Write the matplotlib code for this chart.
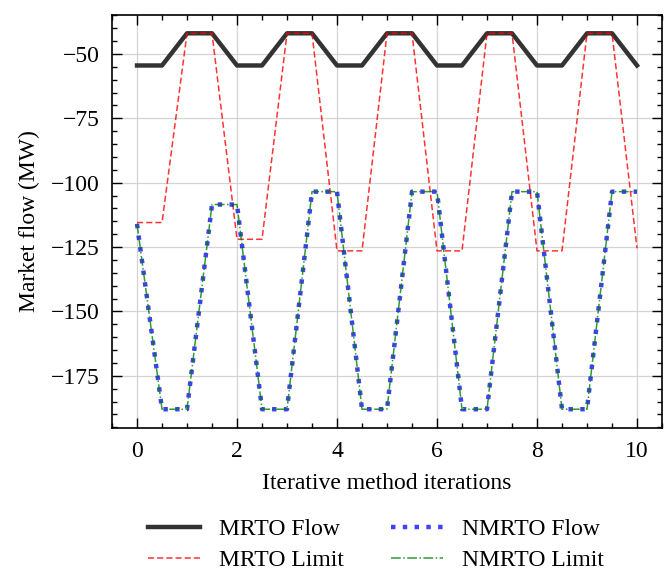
import matplotlib
matplotlib.use("Agg")
import matplotlib.pyplot as plt
from matplotlib.ticker import AutoMinorLocator, MultipleLocator

# iterations on a half-step grid
iterations = [0, 0.5, 1, 1.5, 2, 2.5, 3, 3.5, 4, 4.5, 5,
              5.5, 6, 6.5, 7, 7.5, 8, 8.5, 9, 9.5, 10]

mrto_flow = [-54.5, -54.5, -42, -42, -54.5, -54.5, -42, -42, -54.5, -54.5, -42,
             -42, -54.5, -54.5, -42, -42, -54.5, -54.5, -42, -42, -54.5]
mrto_limit = [-115.5, -115.5, -42, -42, -122, -122, -42, -42, -126.5, -126.5, -42,
              -42, -126.5, -126.5, -42, -42, -126.5, -126.5, -42, -42, -125.5]
nmrto_flow = [-116, -188, -188, -108.5, -108.5, -188, -188, -103.5, -103.5, -188, -188,
              -103.5, -103.5, -188, -188, -103.5, -103.5, -188, -188, -103.5, -103.5]
nmrto_limit = list(nmrto_flow)

plt.rcParams["font.family"] = ["Liberation Serif", "DejaVu Serif"]
plt.rcParams["font.size"] = 17

fig = plt.figure(figsize=(6.64, 5.71), dpi=100)
ax = fig.add_axes([0.1687, 0.2504, 0.8283, 0.7242])

ax.plot(iterations, mrto_flow, color="#333333", lw=3.2, label="MRTO Flow")
ax.plot(iterations, mrto_limit, color="red", alpha=0.8, lw=1.1, ls="--",
        dashes=(4, 2), label="MRTO Limit")
ax.plot(iterations, nmrto_flow, color="blue", alpha=0.75, lw=3.2, ls=":", label="NMRTO Flow")
ax.plot(iterations, nmrto_limit, color="green", alpha=0.8, lw=1.1, ls="-.", label="NMRTO Limit")

ax.set_xlabel("Iterative method iterations", labelpad=8)
ax.set_ylabel("Market flow (MW)", labelpad=8)

ax.yaxis.set_major_locator(MultipleLocator(25))
ax.xaxis.set_minor_locator(AutoMinorLocator(4))
ax.yaxis.set_minor_locator(AutoMinorLocator(5))
ax.tick_params(which="both", direction="in", top=True, right=True, width=1.0)
ax.tick_params(which="major", length=7, pad=9)
ax.tick_params(which="minor", length=3.5)
for sp in ax.spines.values():
    sp.set_linewidth(1.2)
ax.grid(True, color="#d0d0d0", lw=0.9, alpha=0.9)
ax.set_axisbelow(True)

ax.legend(loc="center", bbox_to_anchor=(0.48, -0.283), ncol=2, frameon=False,
          handlelength=2.2, handletextpad=0.8, columnspacing=2.0, labelspacing=0.4)

fig.savefig("out.png", dpi=100)
